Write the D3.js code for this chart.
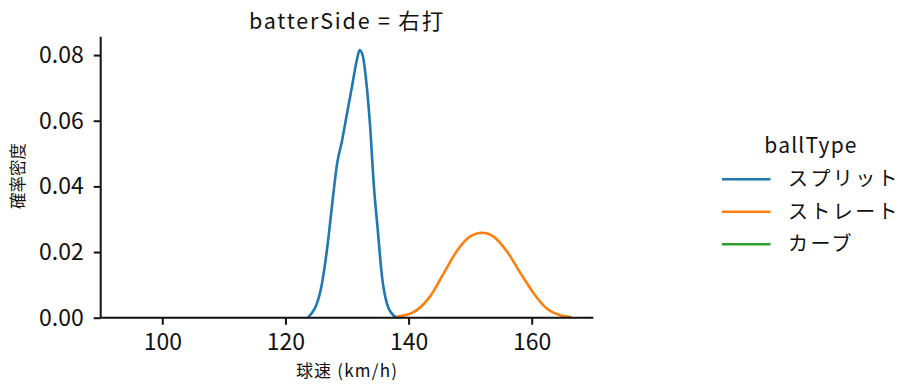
<!DOCTYPE html>
<html>
<head>
<meta charset="utf-8">
<script src="https://cdn.jsdelivr.net/npm/d3@7"></script>
<style>
  body { margin: 0; background: #fff; }
  svg text { font-family: "Noto Sans CJK JP", "Noto Sans", sans-serif; fill: #111; }
</style>
</head>
<body>
<div id="chart"></div>
<script>
// data
const ballTypes = ["スプリット", "ストレート", "カーブ"];
const colors = ["#1f77b4", "#ff7f0e", "#2ca02c"];

const splitSpeed = [123.8, 125.7, 126.8, 127.6, 128.4, 129.2, 130.0, 130.8, 131.6, 132.05, 132.6, 133.1, 133.8, 134.3, 135.0, 135.7, 136.5, 137.6, 138.1];
const splitDensity = [0.0003, 0.0082, 0.0215, 0.0347, 0.047, 0.054, 0.0622, 0.0703, 0.0785, 0.0815, 0.0795, 0.0724, 0.0571, 0.0418, 0.0266, 0.0123, 0.0042, 0.0006, 0.0001];

const straightSpeed = [138.1, 140.8, 143.5, 145.7, 147.9, 150.0, 151.95, 153.8, 156.0, 158.2, 160.6, 162.5, 164.7, 166.3];
const straightDensity = [0.0003, 0.0017, 0.0065, 0.0135, 0.0205, 0.0248, 0.0259, 0.0247, 0.0201, 0.0135, 0.0067, 0.0027, 0.0007, 0.0002];

const curveSpeed = [];
const curveDensity = [];

const xTicks = [100, 120, 140, 160];
const yTicks = [0, 0.02, 0.04, 0.06, 0.08];

const seriesSpeed = [splitSpeed, straightSpeed, curveSpeed];
const seriesDensity = [splitDensity, straightDensity, curveDensity];

const width = 921;
const height = 391;
const plot = { left: 100.7, right: 593.3, top: 36.7, bottom: 317.7 };

const svg = d3.select("#chart")
    .append("svg")
    .attr("width", width)
    .attr("height", height);

const x = d3.scaleLinear().domain([90, 170]).range([plot.left, plot.right]);
const y = d3.scaleLinear().domain([0, 0.0856]).range([plot.bottom, plot.top]);

// lines
const line = d3.line()
    .x(d => x(d[0]))
    .y(d => y(d[1]))
    .curve(d3.curveMonotoneX);

seriesSpeed.forEach((speeds, i) => {
    const pts = speeds.map((s, j) => [s, seriesDensity[i][j]]);
    if (pts.length < 2) return;
    svg.append("path")
        .attr("d", line(pts))
        .attr("fill", "none")
        .attr("stroke", colors[i])
        .attr("stroke-width", 2.6)
        .attr("stroke-linejoin", "round")
        .attr("stroke-linecap", "round");
});

// axes
const xAxis = svg.append("g")
    .attr("transform", "translate(0," + plot.bottom + ")")
    .call(d3.axisBottom(x).tickValues(xTicks).tickSize(7).tickPadding(9).tickFormat(d3.format("d")));

const yAxis = svg.append("g")
    .attr("transform", "translate(" + plot.left + ",0)")
    .call(d3.axisLeft(y).tickValues(yTicks).tickSize(7).tickPadding(10).tickFormat(d3.format(".2f")));

[xAxis, yAxis].forEach(g => {
    g.select(".domain").attr("stroke", "#111").attr("stroke-width", 2);
    g.selectAll(".tick line").attr("stroke", "#111").attr("stroke-width", 2);
    g.selectAll(".tick text").style("font-size", "23px").attr("fill", "#111");
});
xAxis.select(".domain").attr("d", "M" + plot.left + ",0H" + plot.right);
yAxis.select(".domain").attr("d", "M0," + plot.bottom + "V" + plot.top);

// title and axis labels
svg.append("text")
    .attr("x", (plot.left + plot.right) / 2)
    .attr("y", 29)
    .attr("text-anchor", "middle")
    .style("font-size", "21.5px")
    .style("letter-spacing", "1.8px")
    .text("batterSide = 右打");

svg.append("text")
    .attr("x", (plot.left + plot.right) / 2)
    .attr("y", 377)
    .attr("text-anchor", "middle")
    .style("font-size", "17px")
    .style("letter-spacing", "1.2px")
    .text("球速 (km/h)");

svg.append("text")
    .attr("transform", "translate(24," + 176 + ") rotate(-90)")
    .attr("text-anchor", "middle")
    .style("font-size", "16.5px")
    .text("確率密度");

// legend
const legend = svg.append("g");
legend.append("text")
    .attr("x", 811)
    .attr("y", 153)
    .attr("text-anchor", "middle")
    .style("font-size", "21px")
    .style("letter-spacing", "1.2px")
    .text("ballType");

ballTypes.forEach((name, i) => {
    const ly = 179.3 + i * 32.5;
    legend.append("line")
        .attr("x1", 722).attr("x2", 770.5)
        .attr("y1", ly).attr("y2", ly)
        .attr("stroke", colors[i])
        .attr("stroke-width", 2.6);
    legend.append("text")
        .attr("x", 788)
        .attr("y", ly + 7)
        .style("font-size", "20px")
        .style("letter-spacing", "2.4px")
        .text(name);
});
</script>
</body>
</html>
